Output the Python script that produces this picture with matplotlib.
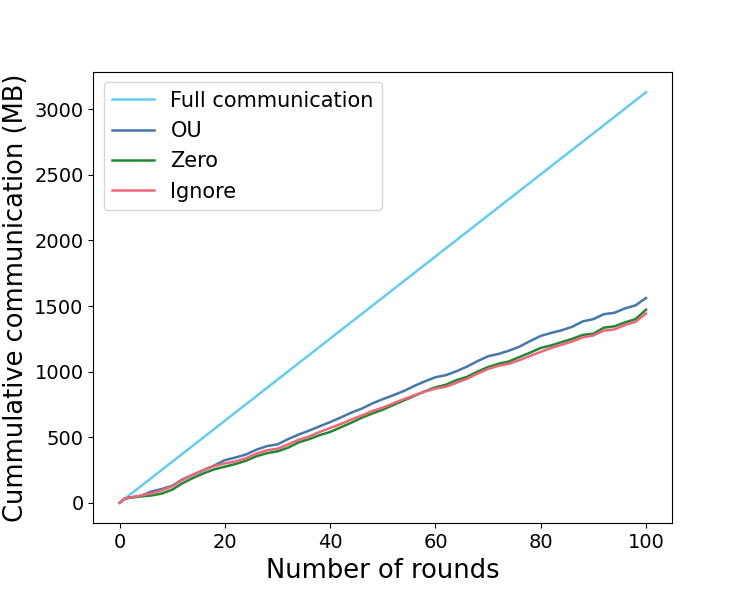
import numpy as np
import matplotlib
matplotlib.use("Agg")
import matplotlib.pyplot as plt

# values (cumulative MB)
full_rounds = [0, 100]
full_comm = [0, 3130]

rounds = [0, 1, 2, 4, 6, 8, 10, 12, 14, 16, 18, 20, 22, 24, 26, 28, 30, 32, 34, 36, 38,
          40, 42, 44, 46, 48, 50, 52, 54, 56, 58, 60, 62, 64, 66, 68, 70, 72, 74, 76, 78,
          80, 82, 84, 86, 88, 90, 92, 94, 96, 98, 100]

ou = [0, 32, 40, 52, 85, 105, 130, 180, 215, 250, 285, 325, 345, 368, 405, 432, 445, 485,
      520, 550, 583, 615, 650, 687, 718, 757, 790, 820, 852, 891, 926, 957, 973, 1003,
      1038, 1080, 1117, 1135, 1160, 1191, 1233, 1272, 1295, 1315, 1342, 1383, 1400, 1438,
      1448, 1482, 1505, 1561]

zero = [0, 32, 38, 48, 55, 70, 100, 150, 190, 225, 255, 275, 295, 320, 355, 378, 392, 420,
        460, 485, 515, 540, 575, 610, 648, 680, 710, 745, 780, 815, 850, 880, 900, 935,
        960, 1000, 1035, 1060, 1078, 1112, 1145, 1180, 1200, 1225, 1250, 1280, 1289, 1335,
        1345, 1375, 1400, 1472]

ignore = [0, 32, 40, 55, 70, 95, 125, 175, 215, 250, 280, 300, 315, 340, 375, 400, 412, 445,
          480, 505, 540, 570, 600, 635, 665, 700, 725, 758, 790, 820, 848, 870, 885, 915,
          945, 985, 1020, 1045, 1060, 1088, 1120, 1150, 1180, 1205, 1230, 1260, 1276, 1312,
          1322, 1355, 1380, 1442]

fig, ax = plt.subplots(figsize=(7.47, 5.98), dpi=100)
fig.subplots_adjust(left=0.125, right=0.9, top=0.88, bottom=0.125)

ax.plot(full_rounds, full_comm, color='#66CCEE', lw=1.8, label='Full communication')
ax.plot(rounds, ou, color='#4477AA', lw=1.8, label='OU')
ax.plot(rounds, zero, color='#228833', lw=1.8, label='Zero')
ax.plot(rounds, ignore, color='#EE6677', lw=1.8, label='Ignore')

ax.set_xlabel('Number of rounds', fontsize=18.5)
ax.set_ylabel('Cummulative communication (MB)', fontsize=18.5)
ax.tick_params(labelsize=14)
ax.legend(loc='upper left', fontsize=15)

fig.savefig('out.png', dpi=100)
